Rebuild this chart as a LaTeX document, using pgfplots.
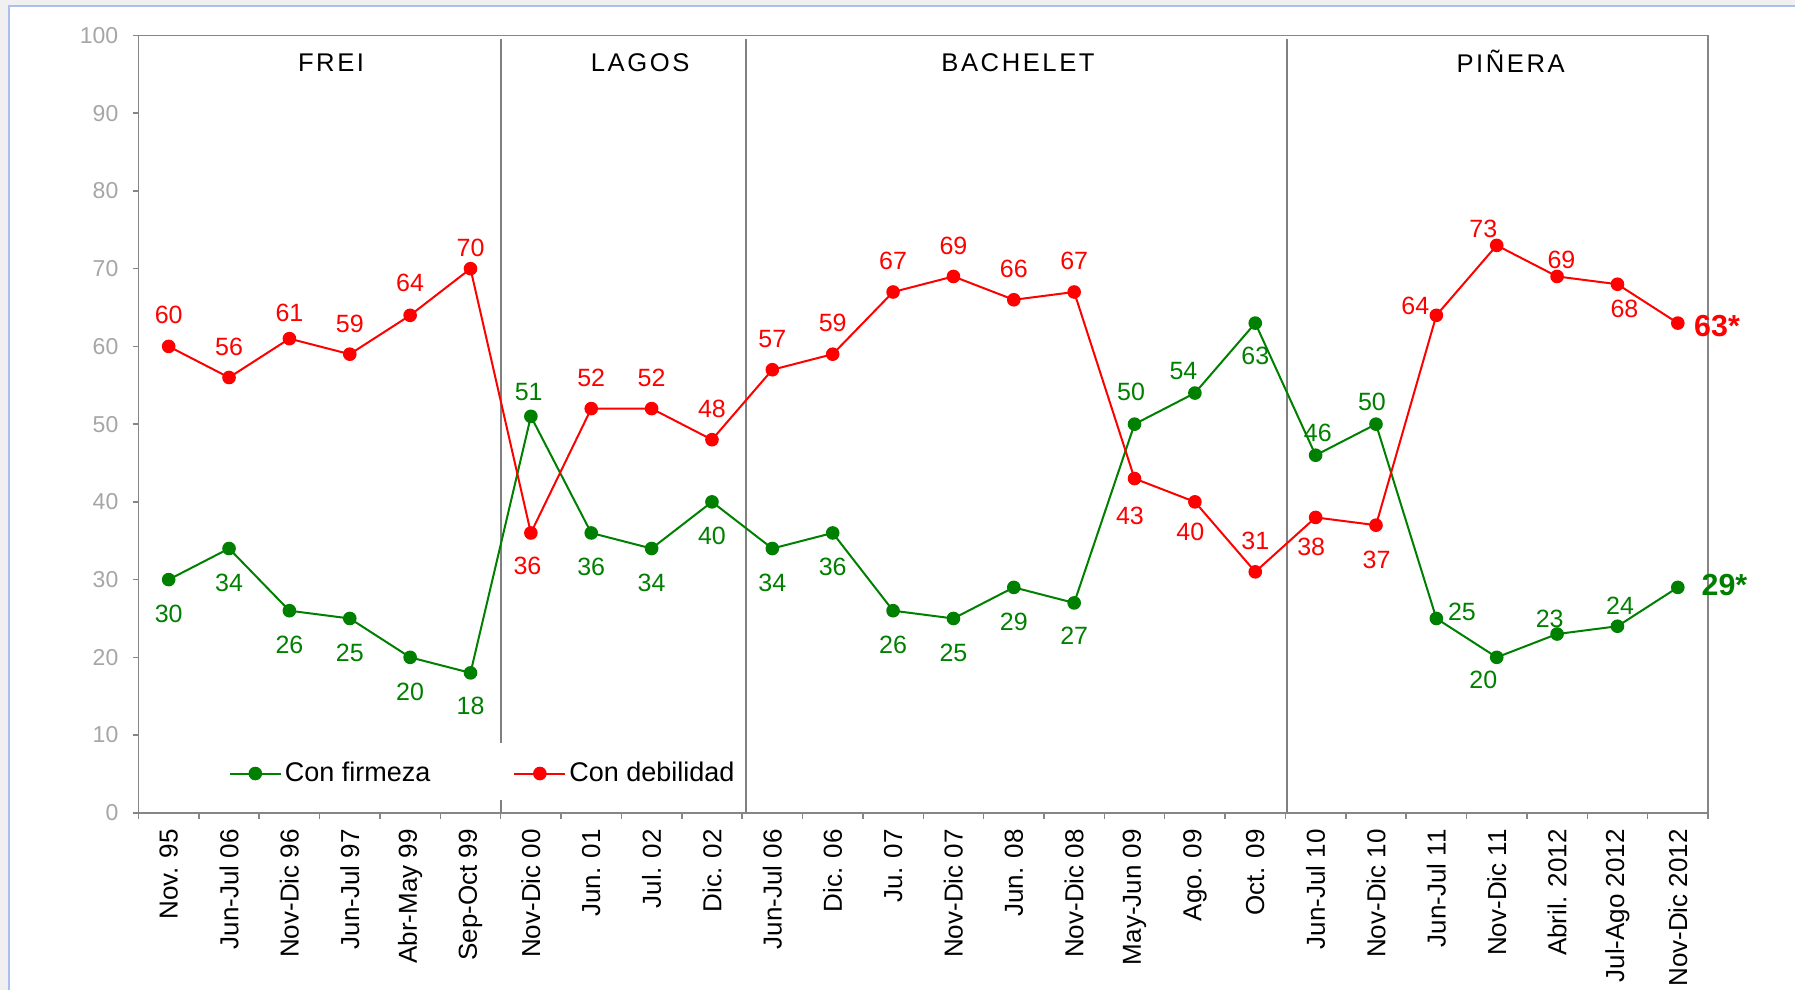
\documentclass[border=0pt]{standalone}
\usepackage{fontspec}
\setmainfont{Liberation Sans}
\usepackage{pgfplots}
\pgfplotsset{compat=1.18}
\usepackage{pgfplotstable}

\definecolor{cfirm}{RGB}{0,128,0}
\definecolor{cdeb}{RGB}{255,0,0}
\definecolor{axgray}{RGB}{134,134,134}
\definecolor{sepgray}{RGB}{128,128,128}
\definecolor{tickgray}{RGB}{166,166,166}
\definecolor{framebl}{RGB}{170,190,240}
\definecolor{bggray}{RGB}{240,240,240}

% x: encuesta, g: con firmeza, r: con debilidad; dx/dy = desplazamiento de la etiqueta (pt)
\pgfplotstableread{
x g gdx gdy r rdx rdy
0 30 0 -17.2 60 0 16.0
1 34 0 -17.2 56 0 15.4
2 26 0 -17.2 61 0 12.9
3 25 0 -17.2 59 0 15.1
4 20 0 -17.2 64 0 16.0
5 18 0 -16.6 70 0 10.4
6 51 -1.1 12.0 36 -1.7 -16.6
7 36 0 -17.2 52 0 15.5
8 34 0 -17.2 52 0 15.5
9 40 0 -17.2 48 0 15.5
10 34 0 -17.2 57 0 15.5
11 36 0 -17.2 59 0 15.5
12 26 0 -17.2 67 0 15.5
13 25 0 -17.2 69 0 15.5
14 29 0 -17.2 66 0 15.5
15 27 0 -16.6 67 0 15.5
16 50 -1.7 16.0 43 -2.3 -18.9
17 54 -5.7 10.9 40 -2.3 -14.9
18 63 0 -16.5 31 0 15.4
19 46 1.1 11.2 38 -2.2 -14.5
20 50 -2.0 10.9 37 0.3 -17.2
21 25 12.8 3.5 64 -10.5 4.5
22 20 -6.7 -11.4 73 -6.7 8.0
23 23 -3.7 7.4 69 2.2 8.5
24 24 1.3 10.1 68 3.5 -12.5
25 29 0 0 63 0 0
}\datos

% pt por unidad de eje
\def\ptx{30.183}
\def\pty{3.8865}

\begin{document}
\begin{tikzpicture}
\useasboundingbox (-69.25pt,-88.6pt) rectangle (828.25pt,406.4pt);
\fill[bggray] (-69.25pt,-88.6pt) rectangle (828.25pt,406.4pt);
\filldraw[fill=white, draw=framebl, line width=1pt] (-64.75pt,-100pt) rectangle (840pt,403.4pt);

\begin{axis}[
  scale only axis,
  width=784.75pt, height=388.65pt,
  xmin=-0.5, xmax=25.5, ymin=0, ymax=100,
  xtick={-0.5,0.5,...,25.5}, xticklabels={},
  extra x ticks={0,...,25},
  extra x tick labels={Nov. 95, Jun-Jul 06, Nov-Dic 96, Jun-Jul 97, Abr-May 99, Sep-Oct 99,
    Nov-Dic 00, Jun. 01, Jul. 02, Dic. 02,
    Jun-Jul 06, Dic. 06, Ju. 07, Nov-Dic 07, Jun. 08, Nov-Dic 08, May-Jun 09, Ago. 09, Oct. 09,
    Jun-Jul 10, Nov-Dic 10, Jun-Jul 11, Nov-Dic 11, Abril. 2012, Jul-Ago 2012, Nov-Dic 2012},
  extra x tick style={major tick length=0pt},
  ytick={0,10,...,100},
  tick align=outside, tick pos=left,
  major tick length=2.9pt,
  axis line style={axgray, line width=0.75pt},
  tick style={axgray, line width=0.75pt},
  xticklabel style={rotate=90, anchor=east, inner sep=0pt, font=\fontsize{13}{14}\selectfont},
  xticklabel shift=8pt,
  yticklabel style={anchor=east, inner sep=0pt, text=tickgray, font=\fontsize{11.5}{13}\selectfont},
  yticklabel shift=7pt,
  /pgf/number format/assume math mode=true,
  clip=false,
  legend style={at={(axis description cs:0.0573,0.0505)}, anchor=west, draw=none, fill=none,
    legend columns=-1, inner sep=0pt, font=\fontsize{13.5}{15}\selectfont,
    nodes={inner sep=1.5pt},
    /tikz/every even column/.append style={column sep=40pt}},
  legend image code/.code={\draw[mark repeat=2, mark phase=2] plot coordinates {(0pt,0pt) (12.75pt,0pt) (25.5pt,0pt)};},
]

% separadores de periodos presidenciales
\draw[sepgray, line width=1.1pt] (axis cs:5.5,99.6) -- (axis cs:5.5,9);
\draw[sepgray, line width=1.1pt] (axis cs:5.5,1.6) -- (axis cs:5.5,0);
\draw[sepgray, line width=1.1pt] (axis cs:9.57,99.6) -- (axis cs:9.57,0);
\draw[sepgray, line width=1.1pt] (axis cs:18.53,99.6) -- (axis cs:18.53,0);

\addplot[cfirm, line width=1pt, mark=*, mark size=2.9pt] table[x=x, y=g]{\datos};
\addlegendentry{Con firmeza}
\addplot[cdeb, line width=1pt, mark=*, mark size=2.9pt] table[x=x, y=r]{\datos};
\addlegendentry{Con debilidad}

% etiquetas de datos
\addplot[forget plot, draw=none, mark=none, skip coords between index={25}{26},
  point meta=explicit symbolic, nodes near coords,
  nodes near coords style={text=cfirm, anchor=center, inner sep=0pt, font=\fontsize{12.5}{14}\selectfont}]
  table[x expr=\thisrow{x}+\thisrow{gdx}/\ptx, y expr=\thisrow{g}+\thisrow{gdy}/\pty, meta=g]{\datos};
\addplot[forget plot, draw=none, mark=none, skip coords between index={25}{26},
  point meta=explicit symbolic, nodes near coords,
  nodes near coords style={text=cdeb, anchor=center, inner sep=0pt, font=\fontsize{12.5}{14}\selectfont}]
  table[x expr=\thisrow{x}+\thisrow{rdx}/\ptx, y expr=\thisrow{r}+\thisrow{rdy}/\pty, meta=r]{\datos};

\addplot[forget plot, draw=none, mark=none, skip coords between index={0}{25},
  nodes near coords={29*},
  nodes near coords style={text=cfirm, anchor=west, inner sep=0pt, xshift=11.7pt, yshift=1.2pt, font=\fontsize{15.2}{17}\selectfont\bfseries}]
  table[x=x, y=g]{\datos};
\addplot[forget plot, draw=none, mark=none, skip coords between index={0}{25},
  nodes near coords={63*},
  nodes near coords style={text=cdeb, anchor=west, inner sep=0pt, xshift=8pt, yshift=-1.5pt, font=\fontsize{15.2}{17}\selectfont\bfseries}]
  table[x=x, y=r]{\datos};

% nombres de periodos
\begin{scope}[every node/.style={font=\fontsize{12.8}{15}\selectfont\addfontfeatures{LetterSpace=10}}]
\node at (axis cs:2.69,96.5) {FREI};
\node at (axis cs:7.81,96.5) {LAGOS};
\node at (axis cs:14.07,96.5) {BACHELET};
\node at (axis cs:22.23,96.7) {PIÑERA};
\end{scope}
\end{axis}
\end{tikzpicture}
\end{document}
